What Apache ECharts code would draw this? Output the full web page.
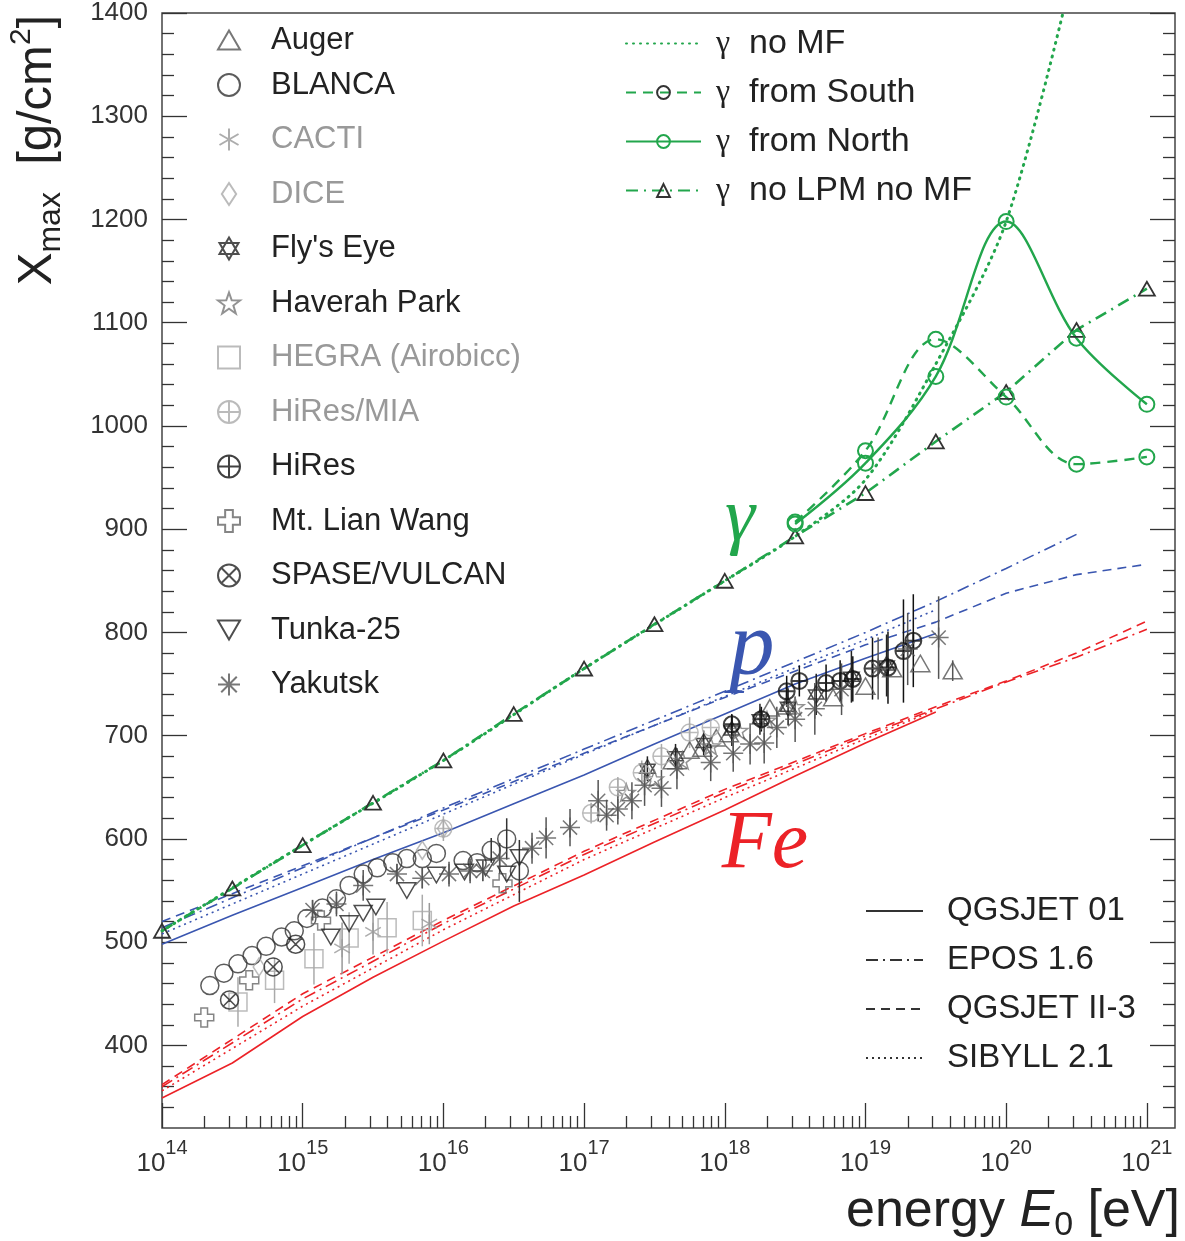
<!DOCTYPE html>
<html>
<head>
<meta charset="utf-8">
<script src="https://cdn.jsdelivr.net/npm/echarts@6/dist/echarts.min.js"></script>
<style>
  html, body { margin: 0; padding: 0; background: #fff; }
  #chart { width: 1185px; height: 1241px; }
</style>
</head>
<body>
<div id="chart"></div>
<script>
// x = log10(E0 / eV), y = Xmax [g/cm2]
var xMajor = [14, 15, 16, 17, 18, 19, 20, 21];
var yMajor = [400, 500, 600, 700, 800, 900, 1000, 1100, 1200, 1300, 1400];

// proton / iron model lines
var pQgs01 = [[14,498],[14.5,526],[15,553],[15.5,580],[16,606],[16.5,634],[17,662],[17.5,692],[18,721],[18.5,750],[19,775],[19.5,799]];
var pEpos  = [[14,514],[15,572],[16,630],[17,687],[18,743],[19,800],[19.5,830],[20,862],[20.5,895]];
var pQgs2  = [[14,520],[15,574],[16,628],[17,683],[18,737],[19,788],[19.5,810],[20,838],[20.5,856],[21,866]];
var pSib   = [[14,508],[15,566],[16,624],[17,682],[18,738],[19,793],[19.5,822]];
var feQgs01 = [[14,349],[14.5,383],[15,428],[15.5,466],[16,501],[16.5,535],[17,565],[17.5,597],[18,628],[18.5,661],[19,693],[19.5,723]];
var feEpos  = [[14,360],[15,445],[16,518],[17,585],[18,645],[19,700],[19.5,726],[20,752],[20.5,776],[21,803]];
var feQgs2  = [[14,362],[15,450],[16,521],[17,588],[18,648],[18.5,675],[19,702],[19.5,728],[20,753],[20.5,780],[21,811]];
var feSib   = [[14,356],[15,438],[16,512],[17,580],[18,640],[19,697],[19.5,725]];

// photon curves
var gNoLpm = [[14,511],[14.5,552],[15,594],[15.5,635],[16,676],[16.5,721],[17,765],[17.5,808],[18,850],[18.5,893],[19,935],[19.5,985],[20,1033],[20.5,1093],[21,1133]];
var gNoMf  = [[14,511],[15,594],[16,676],[17,765],[18,850],[18.5,893],[19,948],[19.5,1060],[20,1198],[20.5,1455]];
var gSouth = [[18.5,907],[19,976],[19.5,1084],[20,1028],[20.5,963],[21,970]];
var gNorth = [[18.5,905],[19,964],[19.5,1048],[20,1198],[20.5,1085],[21,1021]];

// measurements: [lgE, Xmax, error]
var auger = [[17.63,676,0],[17.75,686,0],[17.84,688,0],[17.94,698,0],[18.03,702,0],[18.32,727,0],[18.44,729,0],[18.77,737,0],[19.0,748,0],[19.19,765,0],[19.39,770,0],[19.62,763,10]];
var blanca = [[14.34,458,0],[14.44,470,0],[14.54,479,0],[14.64,487,0],[14.74,496,0],[14.85,505,0],[14.94,511,0],[15.03,523,0],[15.14,533,0],[15.24,542,0],[15.33,555,0],[15.43,566,0],[15.53,572,0],[15.64,577,0],[15.74,581,0],[15.85,581,0],[15.95,586,0],[16.14,579,0],[16.24,577,0],[16.34,589,12],[16.45,600,20],[16.54,569,30]];
var cacti = [[15.28,494,25],[15.5,510,22],[15.9,518,20]];
var dice = [[14.69,476,0],[15.85,589,0],[16.0,610,12]];
var flysEye = [[17.45,668,12],[17.65,680,12],[17.85,693,12],[18.05,705,15],[18.25,716,15],[18.45,728,18],[18.65,740,20],[18.9,757,25],[19.15,768,30]];
var haverah = [[17.3,645,0],[17.5,658,0],[17.7,676,0],[17.9,690,0],[18.1,705,0],[18.3,715,0],[18.5,728,0]];
var hegra = [[14.54,442,24],[14.8,463,22],[15.08,484,25],[15.33,504,25],[15.6,514,25],[15.85,521,25]];
var hiresMia = [[16.0,610,0],[17.05,625,10],[17.24,650,10],[17.41,664,12],[17.55,680,12],[17.75,703,15],[17.9,708,0]];
var hires = [[18.05,711,10],[18.26,716,12],[18.44,743,15],[18.53,753,15],[18.72,751,18],[18.82,753,20],[18.91,755,22],[19.05,765,30],[19.16,766,35],[19.27,782,50],[19.34,792,45]];
var mtLian = [[14.3,427,0],[14.62,463,0],[15.13,521,0],[16.42,557,0]];
var spase = [[14.48,444,0],[14.79,476,0],[14.95,498,0]];
var tunka = [[15.2,505,0],[15.33,518,0],[15.43,528,0],[15.52,534,0],[15.74,550,0],[15.95,565,0],[16.15,568,0],[16.3,572,0],[16.45,566,0],[16.54,582,0]];
var yakutsk = [[15.07,531,10],[15.24,537,12],[15.43,555,15],[15.67,566,10],[15.85,562,10],[16.04,566,12],[16.19,569,12],[16.28,569,10],[16.4,581,15],[16.63,591,15],[16.73,601,20],[16.9,611,18],[17.1,637,20],[17.16,623,15],[17.24,629,15],[17.34,637,18],[17.43,652,20],[17.55,649,18],[17.66,668,20],[17.9,674,18],[18.06,683,18],[18.18,692,20],[18.28,693,20],[18.37,708,20],[18.5,716,22],[18.64,726,25],[18.83,745,25],[19.09,765,30],[19.3,784,35],[19.52,795,40]];

var xMinor = [];
for (var d = 14; d < 21; d++) {
  for (var k = 2; k <= 9; k++) xMinor.push(d + Math.log10(k));
}
var yMinor = [];
for (var v = 340; v < 1400; v += 20) if (v % 100) yMinor.push(v);

var FONT = '"Liberation Sans", Arial, sans-serif';
var SERIF = '"Liberation Serif", "DejaVu Serif", serif';
var GREEN = '#22a64c', BLUE = '#3a56b0', RED = '#ec2227';
var CLEAR = 'rgba(0,0,0,0)';

var SYM = {
  triUp: 'path://M0,-10L10,7.32L-10,7.32Z',
  triDown: 'path://M0,10L10,-7.32L-10,-7.32Z',
  aster6: 'path://M0,-10L0,10M-8.66,-5L8.66,5M-8.66,5L8.66,-5',
  aster8: 'path://M0,-10L0,10M-10,0L10,0M-7.07,-7.07L7.07,7.07M-7.07,7.07L7.07,-7.07',
  diamond: 'path://M0,-10L6.5,0L0,10L-6.5,0Z',
  david: 'path://M0,-10L8.66,5L-8.66,5ZM0,10L8.66,-5L-8.66,-5Z',
  star5: 'path://M0,-10L2.35,-3.24L9.51,-3.09L3.8,1.24L5.88,8.09L0,4L-5.88,8.09L-3.8,1.24L-9.51,-3.09L-2.35,-3.24Z',
  square: 'path://M-9,-9H9V9H-9Z',
  circPlus: 'path://M10,0A10,10,0,1,1,-10,0A10,10,0,1,1,10,0ZM-10,0L10,0M0,-10L0,10',
  cross: 'path://M-3.5,-10H3.5V-3.5H10V3.5H3.5V10H-3.5V3.5H-10V-3.5H-3.5Z',
  circX: 'path://M10,0A10,10,0,1,1,-10,0A10,10,0,1,1,10,0ZM-7.07,-7.07L7.07,7.07M-7.07,7.07L7.07,-7.07'
};

var experiments = [
  { name: 'Auger', data: auger, symbol: SYM.triUp, color: '#555', text: '#222', size: 19 },
  { name: 'BLANCA', data: blanca, symbol: 'circle', color: '#333', text: '#222', size: 18 },
  { name: 'CACTI', data: cacti, symbol: SYM.aster6, color: '#999', text: '#999', size: 18 },
  { name: 'DICE', data: dice, symbol: SYM.diamond, color: '#aaa', text: '#999', size: 18 },
  { name: "Fly's Eye", data: flysEye, symbol: SYM.david, color: '#222', text: '#222', size: 18 },
  { name: 'Haverah Park', data: haverah, symbol: SYM.star5, color: '#777', text: '#222', size: 18 },
  { name: 'HEGRA (Airobicc)', data: hegra, symbol: SYM.square, color: '#aaa', text: '#999', size: 18 },
  { name: 'HiRes/MIA', data: hiresMia, symbol: SYM.circPlus, color: '#aaa', text: '#999', size: 17 },
  { name: 'HiRes', data: hires, symbol: SYM.circPlus, color: '#111', text: '#222', size: 16 },
  { name: 'Mt. Lian Wang', data: mtLian, symbol: SYM.cross, color: '#666', text: '#222', size: 19 },
  { name: 'SPASE/VULCAN', data: spase, symbol: SYM.circX, color: '#222', text: '#222', size: 18 },
  { name: 'Tunka-25', data: tunka, symbol: SYM.triDown, color: '#222', text: '#222', size: 18 },
  { name: 'Yakutsk', data: yakutsk, symbol: SYM.aster8, color: '#555', text: '#222', size: 20 }
];

var series = [];

function modelLine(name, data, color, type) {
  return { name: name, type: 'line', data: data, symbol: 'none', z: 2, silent: true,
    itemStyle: { color: CLEAR },
    lineStyle: { color: color, width: 1.6, type: type } };
}
var DASH = { qgs01: 'solid', epos: [12, 5, 2, 5], qgs2: [9, 6], sib: [2, 4] };
series.push(modelLine('p QGSJET 01', pQgs01, BLUE, DASH.qgs01));
series.push(modelLine('p EPOS 1.6', pEpos, BLUE, DASH.epos));
series.push(modelLine('p QGSJET II-3', pQgs2, BLUE, DASH.qgs2));
series.push(modelLine('p SIBYLL 2.1', pSib, BLUE, DASH.sib));
series.push(modelLine('Fe QGSJET 01', feQgs01, RED, DASH.qgs01));
series.push(modelLine('Fe EPOS 1.6', feEpos, RED, DASH.epos));
series.push(modelLine('Fe QGSJET II-3', feQgs2, RED, DASH.qgs2));
series.push(modelLine('Fe SIBYLL 2.1', feSib, RED, DASH.sib));
// legend-only model styles
series.push(modelLine('QGSJET 01', [], '#333', DASH.qgs01));
series.push(modelLine('EPOS 1.6', [], '#333', DASH.epos));
series.push(modelLine('QGSJET II-3', [], '#333', DASH.qgs2));
series.push(modelLine('SIBYLL 2.1', [], '#333', DASH.sib));

series.push({ name: 'no LPM no MF', type: 'line', data: gNoLpm, z: 3,
  symbol: SYM.triUp, symbolSize: 16, symbolKeepAspect: true,
  itemStyle: { color: CLEAR, borderColor: '#333', borderWidth: 1.8 },
  lineStyle: { color: GREEN, width: 2.6, type: [12, 6, 2, 6] } });
series.push({ name: 'no MF', type: 'line', data: gNoMf, z: 3, smooth: 0.3, symbol: 'none',
  itemStyle: { color: CLEAR },
  lineStyle: { color: GREEN, width: 3, type: [1, 6], cap: 'round' } });
series.push({ name: 'from South', type: 'line', data: gSouth, z: 3, smooth: 0.35,
  symbol: 'circle', symbolSize: 15,
  itemStyle: { color: CLEAR, borderColor: GREEN, borderWidth: 2 },
  lineStyle: { color: GREEN, width: 2.4, type: [10, 7] } });
series.push({ name: 'from North', type: 'line', data: gNorth, z: 3, smooth: 0.35,
  symbol: 'circle', symbolSize: 15,
  itemStyle: { color: CLEAR, borderColor: GREEN, borderWidth: 2 },
  lineStyle: { color: GREEN, width: 2.4 } });

// error bars for all measurements
var errColors = experiments.map(function (e) { return e.color; });
var errData = [];
experiments.forEach(function (e, i) {
  e.data.forEach(function (p) { if (p[2] > 0) errData.push([p[0], p[1], p[2], i]); });
});
series.push({ name: 'errors', type: 'custom', z: 4, silent: true, data: errData,
  renderItem: function (params, api) {
    var x = api.value(0), y = api.value(1), e = api.value(2);
    var a = api.coord([x, y - e]), b = api.coord([x, y + e]);
    return { type: 'line', shape: { x1: a[0], y1: a[1], x2: b[0], y2: b[1] },
      style: { stroke: errColors[api.value(3)], lineWidth: 1.5 } };
  } });

experiments.forEach(function (e) {
  series.push({ name: e.name, type: 'scatter', z: 5, data: e.data.map(function (p) { return [p[0], p[1]]; }),
    symbol: e.symbol, symbolSize: e.size, symbolKeepAspect: true,
    itemStyle: { color: CLEAR, borderColor: e.color, borderWidth: e.name === 'HiRes' ? 2 : 1.5 } });
});

var tickLine = { color: '#333', width: 1.3 };
var xBase = { type: 'value', min: 14, max: 21.2, position: 'bottom', axisLine: { show: false }, splitLine: { show: false } };
var yBase = { type: 'value', min: 320, max: 1400, axisLine: { show: false }, splitLine: { show: false } };
var noIcon = { color: CLEAR, borderWidth: 0 };

function expLegend(list, top) {
  return { orient: 'vertical', left: 217, top: top, padding: 0, itemWidth: 22, itemHeight: 22, itemGap: 23.5, selectedMode: false,
    textStyle: { fontSize: 31, fontFamily: FONT, color: '#222', lineHeight: 31, padding: [0, 0, 0, 26] },
    data: list.map(function (e) { return { name: e.name, textStyle: { color: e.text } }; }) };
}

var option = {
  animation: false,
  backgroundColor: '#fff',
  grid: { left: 162, right: 10, top: 11, bottom: 113, show: true, borderColor: '#444', borderWidth: 1.5 },
  xAxis: [
    Object.assign({}, xBase, {
      axisTick: { inside: true, length: 25, lineStyle: tickLine, customValues: xMajor },
      axisLabel: { customValues: xMajor, margin: 10, color: '#333',
        formatter: function (v) { return '{b|10}{s|' + v + '}'; },
        rich: { b: { fontSize: 26, fontFamily: FONT, color: '#333', lineHeight: 39, verticalAlign: 'bottom' },
                s: { fontSize: 20, fontFamily: FONT, color: '#333', lineHeight: 20, verticalAlign: 'top' } } }
    }),
    Object.assign({}, xBase, {
      axisTick: { inside: true, length: 12, lineStyle: tickLine, customValues: xMinor },
      axisLabel: { show: false }
    })
  ],
  yAxis: [
    Object.assign({}, yBase, { position: 'left',
      axisTick: { inside: true, length: 25, lineStyle: tickLine, customValues: yMajor },
      axisLabel: { customValues: yMajor, margin: 14, fontSize: 26, fontFamily: FONT, color: '#333',
        formatter: function (v) { return String(v); } } }),
    Object.assign({}, yBase, { position: 'left',
      axisTick: { inside: true, length: 12, lineStyle: tickLine, customValues: yMinor },
      axisLabel: { show: false } }),
    Object.assign({}, yBase, { position: 'right',
      axisTick: { inside: true, length: 25, lineStyle: tickLine, customValues: yMajor },
      axisLabel: { show: false } }),
    Object.assign({}, yBase, { position: 'right',
      axisTick: { inside: true, length: 12, lineStyle: tickLine, customValues: yMinor },
      axisLabel: { show: false } })
  ],
  legend: [
    expLegend(experiments.slice(0, 1), 24.5),
    expLegend(experiments.slice(1), 69.5),
    { orient: 'vertical', left: 625, top: 26, padding: 0, itemWidth: 75, itemHeight: 16, itemGap: 14, selectedMode: false,
      formatter: function (n) { return '{g|γ}  ' + n; },
      textStyle: { fontSize: 34, fontFamily: FONT, color: '#222', lineHeight: 35, padding: [0, 0, 0, 10],
        rich: { g: { fontSize: 32, fontFamily: SERIF, color: '#222' } } },
      data: [{ name: 'no MF', itemStyle: noIcon }, { name: 'from South', itemStyle: { borderColor: '#333' } },
             { name: 'from North' }, { name: 'no LPM no MF' }] },
    { orient: 'vertical', left: 865, top: 894, padding: 0, itemWidth: 57, itemHeight: 14, itemGap: 15, selectedMode: false,
      textStyle: { fontSize: 33, fontFamily: FONT, color: '#222', lineHeight: 34, padding: [0, 0, 0, 19] },
      data: ['QGSJET 01', 'EPOS 1.6', 'QGSJET II-3', 'SIBYLL 2.1'].map(function (n) { return { name: n, itemStyle: noIcon }; }) }
  ],
  graphic: [
    { type: 'text', x: 740, y: 520, z: 10, style: { text: 'γ', font: 'italic 76px ' + SERIF, fill: GREEN, align: 'center', verticalAlign: 'middle' } },
    { type: 'text', x: 752, y: 650, z: 10, style: { text: 'p', font: 'italic 90px ' + SERIF, fill: BLUE, align: 'center', verticalAlign: 'middle' } },
    { type: 'text', x: 765, y: 845, z: 10, style: { text: 'Fe', font: 'italic 82px ' + SERIF, fill: RED, align: 'center', verticalAlign: 'middle' } },
    { type: 'text', x: 37, y: 150, rotation: Math.PI / 2, z: 10,
      style: { text: '{m|X}{s|max}{m|  [g/cm}{p|2}{m|]}', align: 'center', verticalAlign: 'middle', fill: '#222',
        rich: { m: { fontSize: 49, fontFamily: FONT, color: '#222', lineHeight: 60, verticalAlign: 'middle' },
                s: { fontSize: 32, fontFamily: FONT, color: '#222', lineHeight: 32, verticalAlign: 'bottom' },
                p: { fontSize: 30, fontFamily: FONT, color: '#222', lineHeight: 30, verticalAlign: 'top' } } } },
    { type: 'text', x: 1180, y: 1212, z: 10,
      style: { text: '{m|energy }{i|E}{s|0}{m| [eV]}', align: 'right', verticalAlign: 'middle', fill: '#222',
        rich: { m: { fontSize: 52, fontFamily: FONT, color: '#222', lineHeight: 62, verticalAlign: 'middle' },
                i: { fontSize: 52, fontFamily: FONT, fontStyle: 'italic', color: '#222', lineHeight: 62, verticalAlign: 'middle' },
                s: { fontSize: 34, fontFamily: FONT, color: '#222', lineHeight: 34, verticalAlign: 'bottom' } } } }
  ],
  series: series
};

var chart = echarts.init(document.getElementById('chart'));
chart.setOption(option);
</script>
</body>
</html>
